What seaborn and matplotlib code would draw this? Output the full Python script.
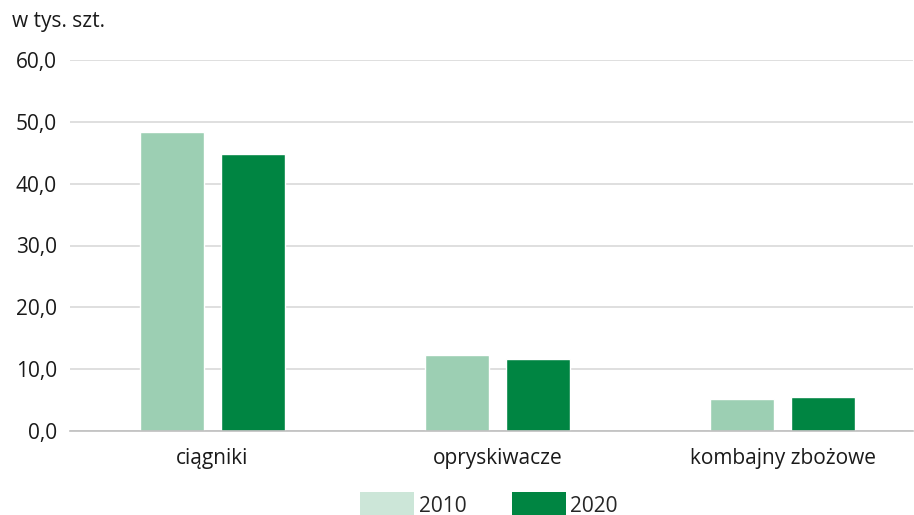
import matplotlib
matplotlib.use("Agg")
import matplotlib.pyplot as plt
from matplotlib.patches import Patch
import seaborn as sns
import pandas as pd

categories = ["ciągniki", "opryskiwacze", "kombajny zbożowe"]
years = ["2010", "2020"]
values_2010 = [48.4, 12.3, 5.1]
values_2020 = [44.8, 11.6, 5.45]
yticks = [0, 10, 20, 30, 40, 50, 60]
ytick_labels = ["0,0", "10,0", "20,0", "30,0", "40,0", "50,0", "60,0"]

df = pd.DataFrame({
    "kategoria": categories * 2,
    "rok": [years[0]] * 3 + [years[1]] * 3,
    "wartosc": values_2010 + values_2020,
})

sns.set_theme(style="white")
plt.rcParams["font.family"] = ["Open Sans", "DejaVu Sans"]

FS = 15
colors = {"2010": "#9ccfb3", "2020": "#008542"}
fig = plt.figure(figsize=(9.14, 5.15), dpi=100)
ax = fig.add_axes([70 / 914, 1 - 431 / 515, 843 / 914, 371 / 515])

sns.barplot(data=df, x="kategoria", y="wartosc", hue="rok", palette=colors,
            width=0.57, gap=0.21, ax=ax, legend=False, saturation=1)

ax.set_ylim(0, 60)
ax.set_xlim(-0.5, 2.457)
ax.set_yticks(yticks)
ax.set_yticklabels(ytick_labels, fontsize=FS, color="#1a1a1a")
ax.tick_params(axis="x", labelsize=FS, colors="#1a1a1a", length=0, pad=12)
ax.tick_params(axis="y", length=0, pad=9.5)
ax.set_xlabel("")
ax.set_ylabel("")
ax.yaxis.grid(True, color="#d9d9d9", linewidth=1.2)
ax.set_axisbelow(True)
for s in ["top", "right", "left"]:
    ax.spines[s].set_visible(False)
ax.spines["bottom"].set_color("#bfbfbf")
ax.spines["bottom"].set_linewidth(1.2)

fig.text(12 / 914, 1 - 22 / 515, "w tys. szt.", fontsize=FS, color="#1a1a1a",
         va="center", ha="left")

handles = [Patch(facecolor="#cce6d8", edgecolor="none"),
           Patch(facecolor="#008542", edgecolor="none")]
fig.legend(handles, years, loc="upper center", bbox_to_anchor=(0.535, 1 - 492 / 515),
           ncol=2, frameon=False, fontsize=FS, handlelength=2.6, handleheight=1.5,
           handletextpad=0.2, columnspacing=2.2, borderaxespad=0, borderpad=0)

fig.savefig("out.png", dpi=100)
